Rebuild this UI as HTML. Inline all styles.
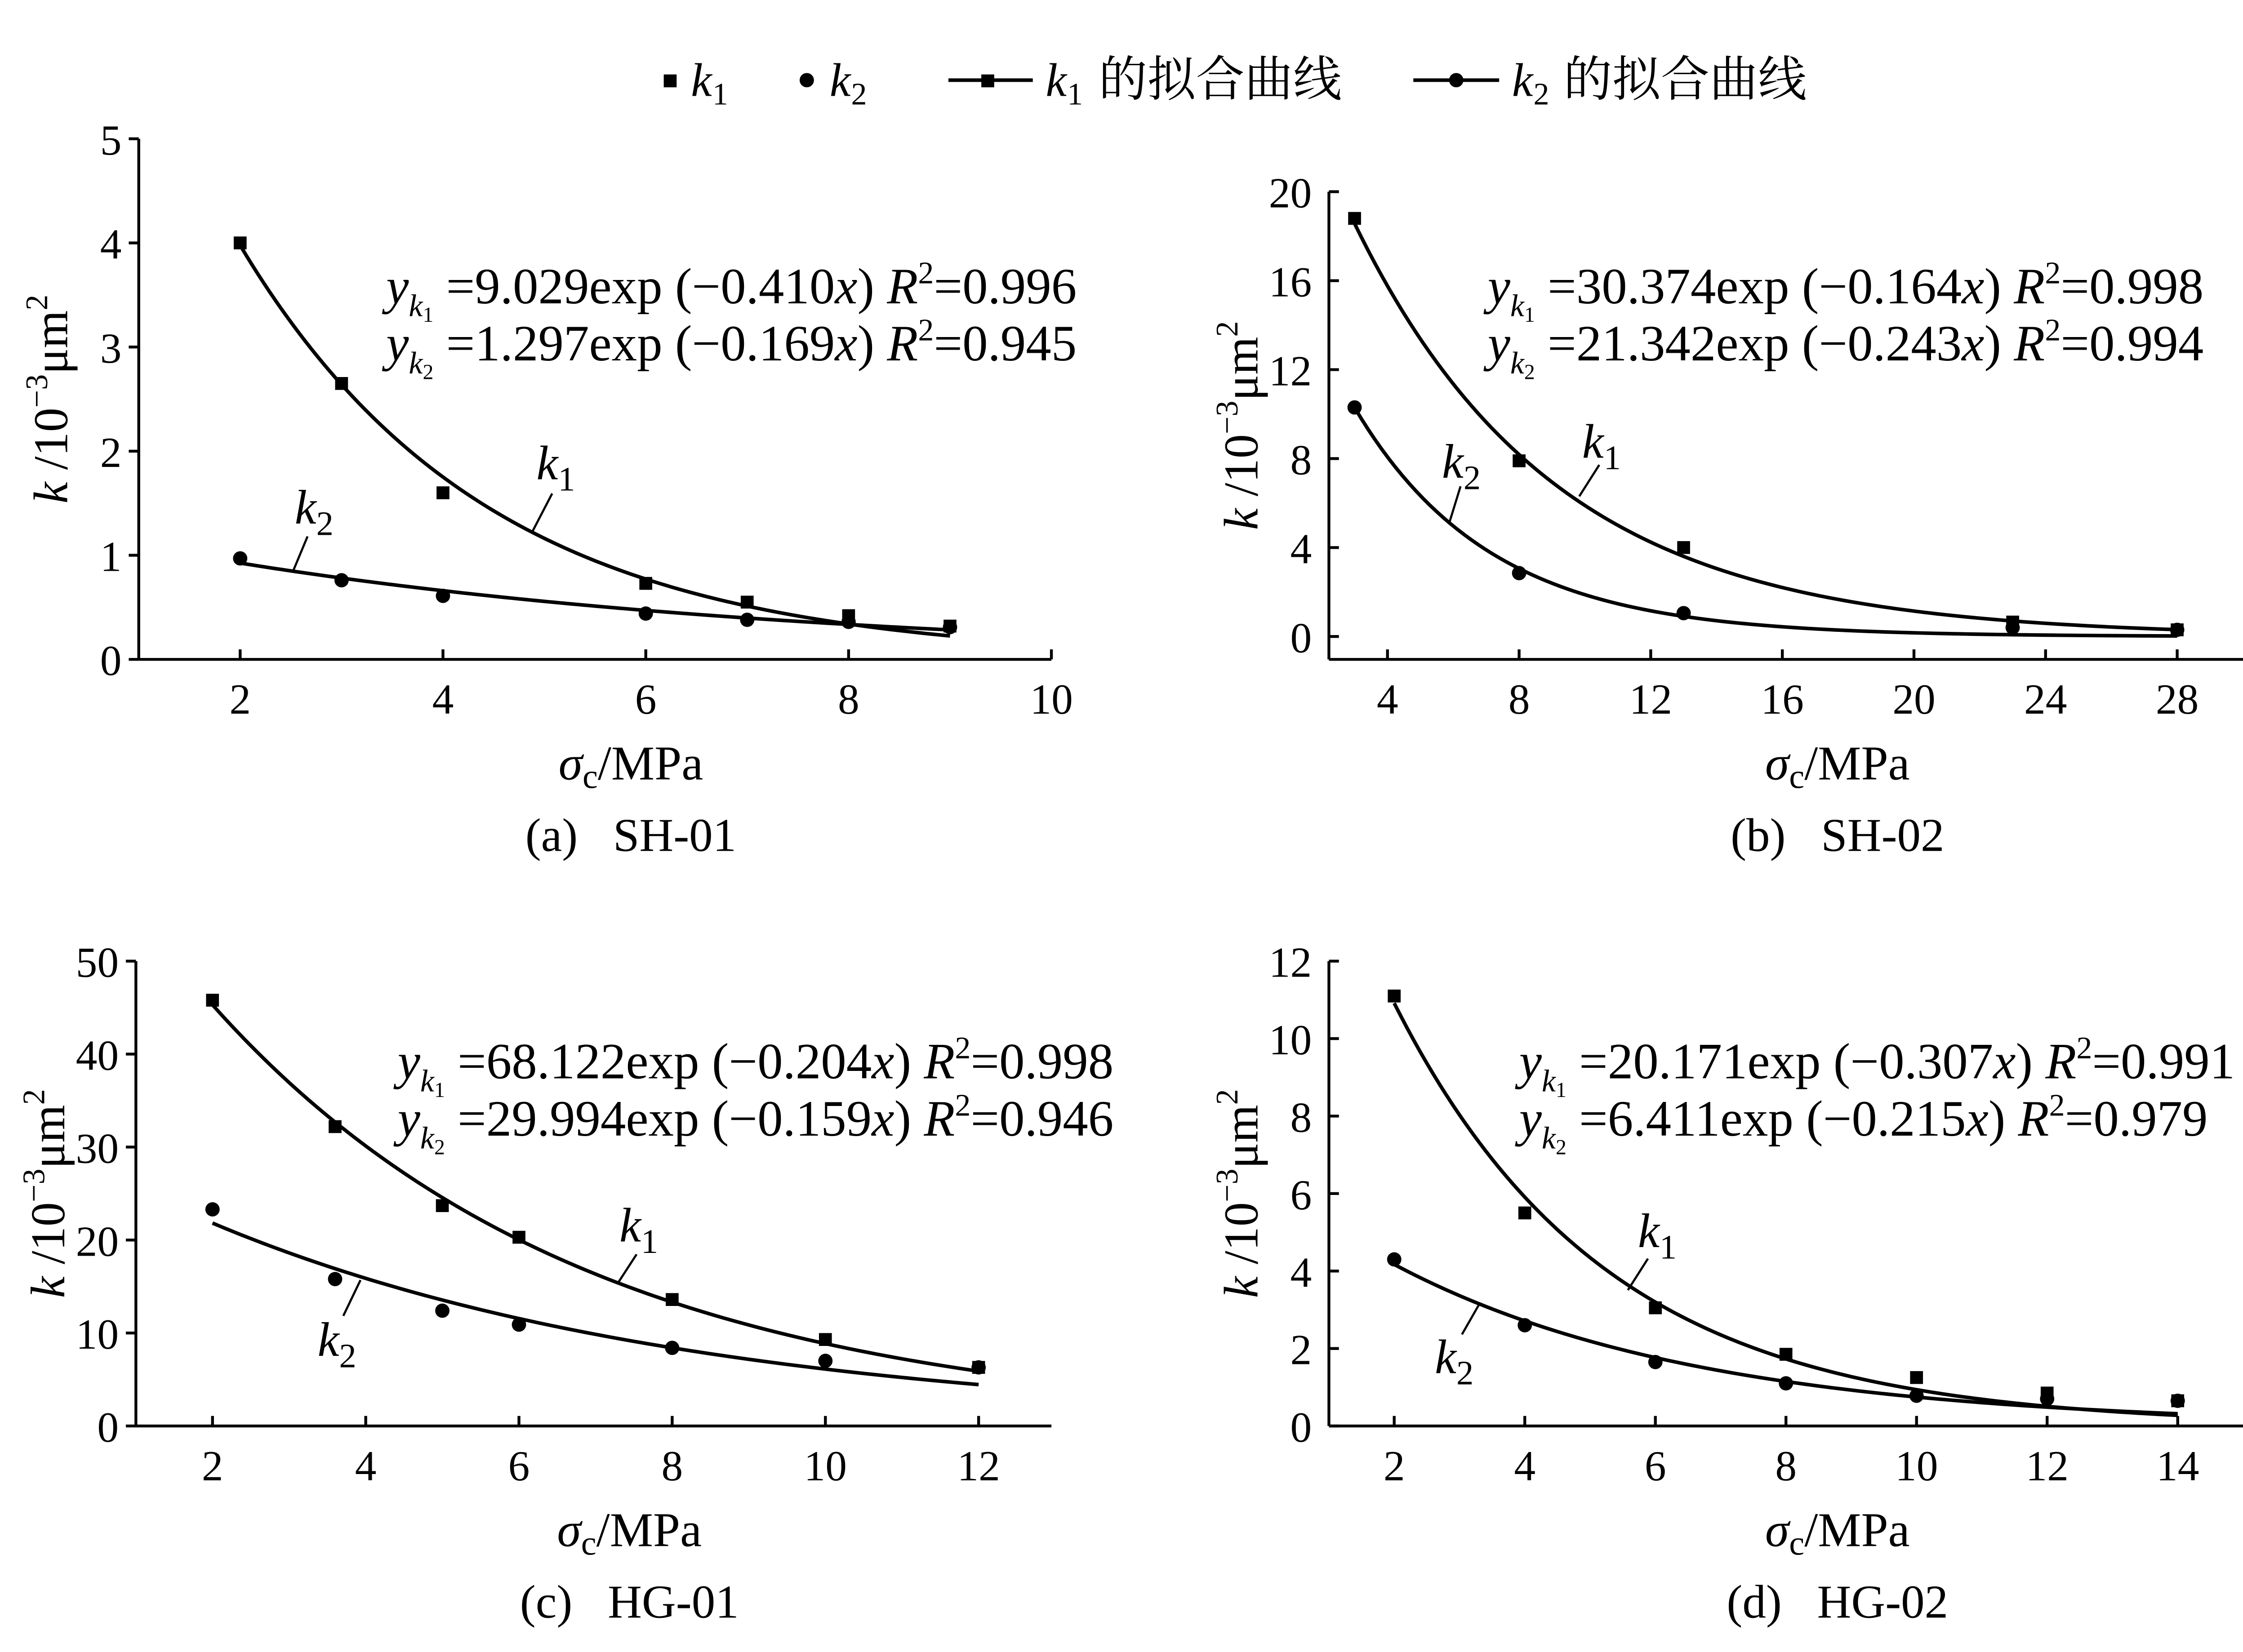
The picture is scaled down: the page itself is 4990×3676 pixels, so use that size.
<!DOCTYPE html>
<html><head><meta charset="utf-8"><style>
html,body{margin:0;padding:0;background:#fff}
svg{display:block}
text{font-family:"Liberation Serif","Noto Serif CJK SC","Noto Sans CJK SC",serif;fill:#000}
.pre{white-space:pre}
</style></head><body>
<svg id="chart" width="4990" height="3676" viewBox="0 0 1568 1155" xmlns="http://www.w3.org/2000/svg">
<g id="legend">
  <g><rect x="464" y="52" width="9" height="9"/><text x="483" y="67" font-size="33" font-style="italic">k</text><text x="498" y="73" font-size="22">1</text></g>
  <g><circle cx="564" cy="56" r="5"/><text x="580" y="67" font-size="33" font-style="italic">k</text><text x="595" y="73" font-size="22">2</text></g>
  <g><line x1="663" y1="56" x2="722" y2="56" stroke="#000" stroke-width="2.5"/><rect x="686" y="52" width="9" height="9"/><text x="731" y="67" font-size="33" font-style="italic">k</text><text x="746" y="73" font-size="22">1</text><text x="768" y="67" font-size="34">的拟合曲线</text></g>
  <g><line x1="988" y1="56" x2="1048" y2="56" stroke="#000" stroke-width="2.5"/><circle cx="1018" cy="56" r="5"/><text x="1057" y="67" font-size="33" font-style="italic">k</text><text x="1072" y="73" font-size="22">2</text><text x="1093" y="67" font-size="34">的拟合曲线</text></g>
</g>
</svg>
<script>
// ---- data ----
const aX1=[2,3,4,6,7,8,9], aK1=[4.0,2.65,1.6,0.73,0.55,0.42,0.32];
const aX2=[2,3,4,6,7,8,9], aK2=[0.97,0.76,0.61,0.44,0.38,0.36,0.31];
const aFit=[9.029,-0.410,1.297,-0.169];
const aXT=[2,4,6,8,10], aYT=[0,1,2,3,4,5];
const bX1=[3,8,13,23,28], bK1=[18.8,7.9,4.0,0.65,0.3];
const bX2=[3,8,13,23,28], bK2=[10.3,2.85,1.05,0.4,0.3];
const bFit=[30.374,-0.164,21.342,-0.243];
const bXT=[4,8,12,16,20,24,28], bYT=[0,4,8,12,16,20];
const cX1=[2,3.6,5,6,8,10,12], cK1=[45.8,32.2,23.7,20.3,13.6,9.3,6.3];
const cX2=[2,3.6,5,6,8,10,12], cK2=[23.3,15.8,12.4,10.9,8.4,7.0,6.3];
const cFit=[68.122,-0.204,29.994,-0.159];
const cXT=[2,4,6,8,10,12], cYT=[0,10,20,30,40,50];
const dX1=[2,4,6,8,10,12,14], dK1=[11.1,5.5,3.05,1.85,1.25,0.85,0.65];
const dX2=[2,4,6,8,10,12,14], dK2=[4.3,2.6,1.65,1.1,0.78,0.7,0.65];
const dFit=[20.171,-0.307,6.411,-0.215];
const dXT=[2,4,6,8,10,12,14], dYT=[0,2,4,6,8,10,12];
const eqA=["9.029exp (−0.410","0.996","1.297exp (−0.169","0.945"];
const eqB=["30.374exp (−0.164","0.998","21.342exp (−0.243","0.994"];
const eqC=["68.122exp (−0.204","0.998","29.994exp (−0.159","0.946"];
const eqD=["20.171exp (−0.307","0.991","6.411exp (−0.215","0.979"];

const NS="http://www.w3.org/2000/svg", svg=document.getElementById('chart');
function mk(tag,attrs,parent){const e=document.createElementNS(NS,tag);for(const k in attrs)e.setAttribute(k,attrs[k]);(parent||svg).appendChild(e);return e;}
function txt(s,x,y,size,parent,extra){const e=mk('text',Object.assign({x:x,y:y,'font-size':size},extra||{}),parent);e.textContent=s;return e;}

function panel(p){
  const g=mk('g',{});
  
  
  const sx=v=>p.L+(v-p.x0)/(p.x1-p.x0)*(p.R-p.L);
  const sy=v=>p.y0px+(v-p.ymin)/(p.ymax-p.ymin)*(p.y1px-p.y0px);
  const ax=mk('g',{},g);
  
  
  mk('line',{x1:p.L,y1:p.B,x2:p.R,y2:p.B,stroke:'#000','stroke-width':2},ax);
  mk('line',{x1:p.L,y1:p.B,x2:p.L,y2:sy(p.ymax),stroke:'#000','stroke-width':2},ax);
  p.xt.forEach(v=>{const x=sx(v);mk('line',{x1:x,y1:p.B,x2:x,y2:p.B-7,stroke:'#000','stroke-width':2},ax);
    const t=txt(String(v),x,p.B+38,30,ax,{'text-anchor':'middle'});
    
    });
  p.yt.forEach(v=>{const y=sy(v);mk('line',{x1:p.L,y1:y,x2:p.L+p.ytd*7,y2:y,stroke:'#000','stroke-width':2},ax);
    const t=txt(String(v),p.L-12,y+11,30,ax,{'text-anchor':'end'});
    
    });
  [[p.x1s,0,'k1-fit'],[p.x2s,2,'k2-fit']].forEach(([xs,i,n])=>{
    const a=p.fit[i],b=p.fit[i+1],xa=xs[0],xb=xs[xs.length-1];let d='';
    for(let k=0;k<=120;k++){const x=xa+(xb-xa)*k/120;d+=(k?'L':'M')+sx(x).toFixed(2)+','+sy(a*Math.exp(b*x)).toFixed(2);}
    const pa=mk('path',{d:d,fill:'none',stroke:'#000','stroke-width':2.5},g);
    
    
  });
  p.x1s.forEach((x,i)=>{const r=mk('rect',{x:sx(x)-4.5,y:sy(p.k1[i])-4.5,width:9,height:9},g);
    
    });
  p.x2s.forEach((x,i)=>{const c=mk('circle',{cx:sx(x),cy:sy(p.k2[i]),r:5},g);
    
    });
  const eg=mk('g',{},g);
  
  
  [0,1].forEach(j=>{const y=p.ey+j*40;
    const t=mk('text',{x:p.ex,y:y,'font-size':35.5},eg);
    t.innerHTML='<tspan font-style="italic">y</tspan><tspan font-style="italic" font-size="22" dy="9">k</tspan><tspan font-size="15" dy="4">'+(j+1)+'</tspan><tspan dy="-13"> =</tspan>'+p.eq[j*2]+'<tspan font-style="italic">x</tspan>) <tspan font-style="italic">R</tspan><tspan font-size="22" dy="-14">2</tspan><tspan dy="14">='+p.eq[j*2+1]+'</tspan>';
  });
  p.lab.forEach(l=>{
    mk('line',{x1:l[2],y1:l[3],x2:l[4],y2:l[5],stroke:'#000','stroke-width':1.5},g);
    const t=mk('text',{x:l[0],y:l[1],'font-size':34},g);
    
    
    t.innerHTML='<tspan font-style="italic">k</tspan><tspan font-size="24" dy="8">'+l[6]+'</tspan>';
  });
  const cx=(p.L+p.titleR)/2;
  const xt=mk('text',{x:cx,y:p.B+84,'font-size':34,'text-anchor':'middle'},g);
  
  
  xt.innerHTML='<tspan font-style="italic">σ</tspan><tspan font-size="24" dy="6">c</tspan><tspan dy="-6">/MPa</tspan>';
  const yc=(p.B+sy(p.ymax))/2;
  const yt=mk('text',{x:0,y:0,'font-size':34,'text-anchor':'middle',transform:'translate('+(p.L-50)+','+yc+') rotate(-90)'},g);
  
  
  yt.innerHTML='<tspan font-style="italic">k</tspan> /10<tspan font-size="22" dy="-14">−3</tspan><tspan dy="14">μm</tspan><tspan font-size="22" dy="-14">2</tspan>';
  const st=txt(p.sub,cx,p.B+134,33,g,{'text-anchor':'middle','class':'pre'});
  
  
}
panel({id:'a',L:97,R:735,B:461,x0:1,x1:10,ymin:0,ymax:5,y0px:461,y1px:97,ytd:-1,titleR:785,
  xt:aXT,yt:aYT,x1s:aX1,k1:aK1,x2s:aX2,k2:aK2,fit:aFit,eq:eqA,ex:270,ey:212,sub:'(a)   SH-01',
  lab:[[375,335,372,372,386,345,'1'],[206,366,205,399,215,375,'2']]});
panel({id:'b',L:929,R:1568,B:461,x0:2.22,x1:30.0,ymin:0,ymax:20,y0px:445,y1px:134,ytd:1,titleR:1640,
  xt:bXT,yt:bYT,x1s:bX1,k1:bK1,x2s:bX2,k2:bK2,fit:bFit,eq:eqB,ex:1040,ey:212,sub:'(b)   SH-02',
  lab:[[1106,320,1104,347,1118,325,'1'],[1008,334,1013,366,1021,340,'2']]});
panel({id:'c',L:95,R:735,B:997,x0:1,x1:12.95,ymin:0,ymax:50,y0px:997,y1px:672,ytd:-1,titleR:785,
  xt:cXT,yt:cYT,x1s:cX1,k1:cK1,x2s:cX2,k2:cK2,fit:cFit,eq:eqC,ex:278,ey:754,sub:'(c)   HG-01',
  lab:[[433,868,432,897,445,877,'1'],[222,948,240,920,252,895,'2']]});
panel({id:'d',L:929,R:1568,B:997,x0:1,x1:15.0,ymin:0,ymax:12,y0px:997,y1px:672,ytd:1,titleR:1640,
  xt:dXT,yt:dYT,x1s:dX1,k1:dK1,x2s:dX2,k2:dK2,fit:dFit,eq:eqD,ex:1062,ey:754,sub:'(d)   HG-02',
  lab:[[1145,872,1138,902,1152,880,'1'],[1003,960,1022,933,1034,912,'2']]});
</script>
</body></html>
